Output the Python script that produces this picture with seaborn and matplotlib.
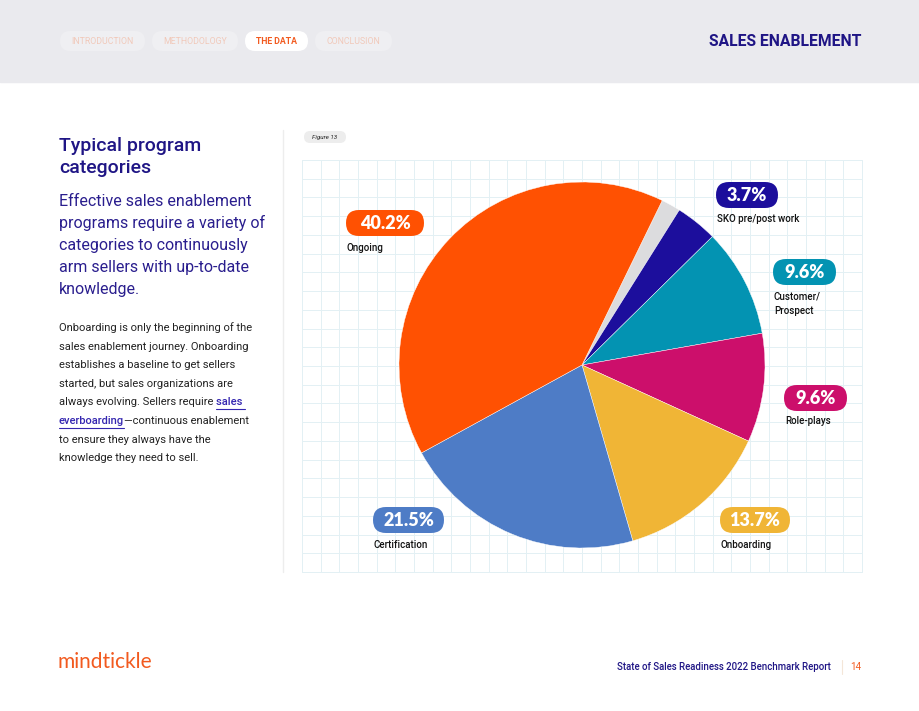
import numpy as np
import matplotlib
matplotlib.use("Agg")
import matplotlib.pyplot as plt
from matplotlib.patches import FancyBboxPatch, Rectangle
import seaborn as sns

# ---- data ----
categories = ["Other", "SKO pre/post work", "Customer/\nProspect", "Role-plays",
              "Onboarding", "Certification", "Ongoing"]
values = [1.7, 3.7, 9.6, 9.6, 13.7, 21.5, 40.2]
value_labels = ["", "3.7%", "9.6%", "9.6%", "13.7%", "21.5%", "40.2%"]
colors = ["#DCDCDE", "#1C0E9C", "#0393B2", "#CC0F6B", "#F0B536", "#4E7CC6", "#FF5102"]

sns.set_style("white")
plt.rcParams["font.family"] = ["Roboto", "DejaVu Sans"]

W, H = 920, 711
fig = plt.figure(figsize=(W / 100, H / 100), dpi=100)
bg = fig.add_axes([0, 0, 1, 1])
bg.set_xlim(0, W)
bg.set_ylim(H, 0)
bg.axis("off")

NAVY = "#1F1585"
ORANGE = "#F25A1F"

# header band
bg.add_patch(Rectangle((0, 0), W, 82, color="#EAEAEE", zorder=0))
navs = [("INTRODUCTION", 60, 145, False), ("METHODOLOGY", 152, 238, False),
        ("THE DATA", 245, 308, True), ("CONCLUSION", 315, 392, False)]
for name, x0, x1, active in navs:
    bg.add_patch(FancyBboxPatch((x0, 31), x1 - x0, 20,
                                boxstyle="round,pad=0,rounding_size=10",
                                fc="white" if active else "#EFEFF2", ec="none", zorder=1))
    bg.text((x0 + x1) / 2, 41.5, name, ha="center", va="center", fontsize=6.3,
            fontweight="bold" if active else "normal",
            color=ORANGE if active else "#F1C9BA", zorder=2)
bg.text(862, 42, "SALES ENABLEMENT", ha="right", va="center", fontsize=11.3,
        fontweight="bold", color=NAVY)

# left text
bg.text(59, 146, "Typical program", fontsize=14, fontweight="medium", color=NAVY, va="center")
bg.text(59, 168, "categories", fontsize=14, fontweight="medium", color=NAVY, va="center")
sub = ["Effective sales enablement", "programs require a variety of",
       "categories to continuously", "arm sellers with up-to-date", "knowledge."]
for i, s in enumerate(sub):
    bg.text(59, 201 + i * 22.2, s, fontsize=11.5, color="#2A1E8E", va="center")

body = ["Onboarding is only the beginning of the", "sales enablement journey. Onboarding",
        "establishes a baseline to get sellers", "started, but sales organizations are"]
for i, s in enumerate(body):
    bg.text(59, 328 + i * 18.6, s, fontsize=8, color="#222222", va="center")
LINK = "#3426B0"
fig.canvas.draw()
r = fig.canvas.get_renderer()
t5 = bg.text(59, 328 + 4 * 18.6, "always evolving. Sellers require ", fontsize=8,
             color="#222222", va="center")
ext = t5.get_window_extent(renderer=r)
x_link = 59 + ext.width
bg.text(x_link, 328 + 4 * 18.6, "sales ", fontsize=8, color=LINK, va="center",
        fontweight="medium")
t6 = bg.text(59, 328 + 5 * 18.6, "everboarding", fontsize=8, color=LINK, va="center",
             fontweight="medium")
ext6 = t6.get_window_extent(renderer=r)
bg.text(59 + ext6.width, 328 + 5 * 18.6, "\u2014continuous enablement", fontsize=8,
        color="#222222", va="center")
tl = bg.text(x_link, 0, "sales ", fontsize=8, fontweight="medium", alpha=0)
wl = tl.get_window_extent(renderer=r).width
bg.plot([x_link, x_link + wl], [328 + 4 * 18.6 + 6.5] * 2, color=LINK, lw=0.8)
bg.plot([59, 59 + ext6.width], [328 + 5 * 18.6 + 6.5] * 2, color=LINK, lw=0.8)
for i, s in enumerate(["to ensure they always have the", "knowledge they need to sell."]):
    bg.text(59, 328 + (6 + i) * 18.6, s, fontsize=8, color="#222222", va="center")

# divider
bg.plot([283, 283], [130, 572], color="#EDEDED", lw=1)

# figure pill
bg.add_patch(FancyBboxPatch((304, 131), 42, 12, boxstyle="round,pad=0,rounding_size=6",
                            fc="#EDEDED", ec="none"))
bg.text(325, 137.5, "Figure 13", ha="center", va="center", fontsize=4.5,
        style="italic", color="#222222")

# grid
gx0, gx1, gy0, gy1 = 302, 862, 160, 572
for x in np.linspace(gx0, gx1, 31):
    bg.plot([x, x], [gy0, gy1], color="#E3F0F4", lw=0.7, zorder=0.5)
for y in np.linspace(gy0, gy1, 23):
    bg.plot([gx0, gx1], [y, y], color="#E3F0F4", lw=0.7, zorder=0.5)

# pie
cx, cy, rad = 582, 365, 183
pax = fig.add_axes([(cx - rad) / W, (H - cy - rad) / H, 2 * rad / W, 2 * rad / H])
pax.pie(values, colors=colors, startangle=64, counterclock=False,
        wedgeprops=dict(edgecolor="white", linewidth=0.3))
pax.set_xlim(-1, 1)
pax.set_ylim(-1, 1)
pax.set_aspect("equal")
pax.axis("off")

# labels: (pill left, pill center y, pill width, label y)
label_pos = {
    "SKO pre/post work": (716, 195, 62, 219),
    "Customer/\nProspect": (773, 272, 63, 304),
    "Role-plays": (784, 398, 63, 421),
    "Onboarding": (720, 520, 70, 545),
    "Certification": (373, 520, 71, 545),
    "Ongoing": (346, 223, 78, 248),
}
for cat, val, col in zip(categories, value_labels, colors):
    if cat not in label_pos:
        continue
    x0, yc, w, ly = label_pos[cat]
    bg.add_patch(FancyBboxPatch((x0, yc - 13), w, 26,
                                boxstyle="round,pad=0,rounding_size=13",
                                fc=col, ec="none", zorder=3))
    bg.text(x0 + w / 2, yc + 0.5, val, ha="center", va="center", fontsize=13,
            fontweight="heavy", color="white", zorder=4,
            family=["Lato", "DejaVu Sans"])
    bg.text(x0 + 1, ly, cat, ha="left", va="center", fontsize=7, color="#111111",
            fontweight="medium", zorder=4, linespacing=1.5)

# footer
bg.text(58, 662, "mindtickle", fontsize=15, color=ORANGE, va="center",
        family=["Lato", "DejaVu Sans"])
bg.text(831, 667, "State of Sales Readiness 2022 Benchmark Report", ha="right",
        va="center", fontsize=6.9, color=NAVY, fontweight="medium")
bg.plot([842, 842], [660, 674], color="#F4E6D8", lw=0.8)
bg.text(856, 667, "14", ha="center", va="center", fontsize=7, color=ORANGE)

fig.savefig("out.png", dpi=100)
